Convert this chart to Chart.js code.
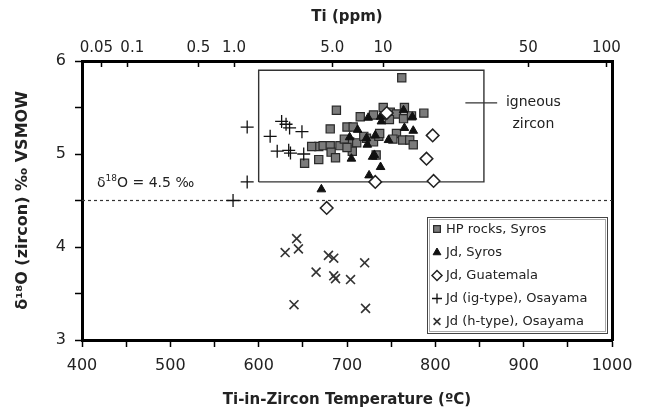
<!DOCTYPE html>
<html>
<head>
<meta charset="utf-8">
<script src="https://cdn.jsdelivr.net/npm/chart.js@4/dist/chart.umd.min.js"></script>
<style>
  html, body { margin: 0; padding: 0; background: #fff; }
</style>
</head>
<body>
<canvas id="chart_1" width="648" height="414"></canvas>
<script>
// Ti-in-zircon temperature (°C) vs δ18O (zircon, ‰ VSMOW)
const hpSyrosT = [762, 688, 681, 700, 707, 715, 730, 741, 749, 756, 765, 764, 787, 773, 668, 673, 681, 692, 703, 711,
                  682, 687, 668, 652, 706, 722, 730, 736, 737, 756, 763, 771, 775, 752, 733, 697, 700, 748, 719, 660];
const hpSyrosO = [5.82, 5.47, 5.27, 5.29, 5.29, 5.40, 5.42, 5.50, 5.45, 5.43, 5.50, 5.38, 5.44, 5.41, 5.08, 5.09, 5.09, 5.09, 5.13, 5.12,
                  5.02, 4.96, 4.94, 4.90, 5.03, 5.17, 5.13, 5.19, 5.22, 5.22, 5.15, 5.15, 5.10, 5.16, 4.99, 5.16, 5.07, 5.37, 5.19, 5.08];

const jdSyrosT = [724, 738, 739, 764, 774, 765, 775, 712, 703, 722, 732, 747, 723, 705, 729, 731, 738, 725, 671, 745];
const jdSyrosO = [5.39, 5.40, 5.35, 5.47, 5.40, 5.28, 5.25, 5.26, 5.18, 5.17, 5.20, 5.15, 5.10, 4.95, 4.97, 4.99, 4.86, 4.77, 4.62, 5.45];

const jdGuatT = [677, 732, 745, 790, 797, 798];
const jdGuatO = [4.42, 4.70, 5.44, 4.95, 5.20, 4.71];

const jdIgT = [571, 587, 587, 613, 626, 631, 635, 649, 621, 634, 636, 651];
const jdIgO = [4.50, 4.70, 5.29, 5.19, 5.35, 5.32, 5.28, 5.24, 5.03, 5.04, 5.01, 5.00];

const jdHT = [643, 630, 645, 679, 685, 720, 665, 685, 687, 704, 640, 721];
const jdHO = [4.09, 3.94, 3.98, 3.91, 3.88, 3.83, 3.73, 3.69, 3.66, 3.65, 3.38, 3.34];

const seriesNames = ["HP rocks, Syros", "Jd, Syros", "Jd, Guatemala", "Jd (ig-type), Osayama", "Jd (h-type), Osayama"];

// igneous zircon field and mantle value
const igneousT = [600, 855];
const igneousO = [4.7, 5.9];
const mantleO = 4.5;
const pointerT = [834, 870];
const pointerO = 5.55;

// top axis: Ti content (ppm), placed with the Ti-in-zircon thermometer
const tiTicks = [0.05, 0.1, 0.5, 1.0, 5.0, 10, 50, 100];
const tiLabels = ["0.05  ", "  0.1", "0.5", "1.0", "5.0", "10", "50", "100"];
const tiToTemp = (ppm) => 5080 / (6.01 - Math.log10(ppm)) - 273.15;

const pts = (xs, ys) => xs.map((x, i) => ({ x: x, y: ys[i] }));

const FONT = "'DejaVu Sans', Verdana, sans-serif";
const INK = "#222";

const styles = [
  { pointStyle: "rect", radius: 5.8, backgroundColor: "#7b7b7b", borderColor: "#2a2a2a", borderWidth: 1.2 },
  { pointStyle: "triangle", radius: 5, backgroundColor: "#111", borderColor: "#111", borderWidth: 1 },
  { pointStyle: "rectRot", radius: 6.3, backgroundColor: "#fff", borderColor: "#222", borderWidth: 1.5 },
  { pointStyle: "cross", radius: 6.5, backgroundColor: "#111", borderColor: "#111", borderWidth: 1.3 },
  { pointStyle: "crossRot", radius: 6.3, backgroundColor: "#333", borderColor: "#333", borderWidth: 1.6 },
];

const seriesData = [pts(hpSyrosT, hpSyrosO), pts(jdSyrosT, jdSyrosO), pts(jdGuatT, jdGuatO), pts(jdIgT, jdIgO), pts(jdHT, jdHO)];

const scatterSets = seriesData.map((d, i) => ({
  type: "scatter",
  label: seriesNames[i],
  data: d,
  pointStyle: styles[i].pointStyle,
  pointRadius: styles[i].radius,
  pointHoverRadius: styles[i].radius,
  pointBackgroundColor: styles[i].backgroundColor,
  pointBorderColor: styles[i].borderColor,
  pointBorderWidth: styles[i].borderWidth,
  order: 5 - i,
}));

const lineSets = [
  {
    type: "line",
    label: "igneous zircon",
    data: pts([igneousT[0], igneousT[1], igneousT[1], igneousT[0], igneousT[0]],
              [igneousO[0], igneousO[0], igneousO[1], igneousO[1], igneousO[0]]),
    borderColor: "#333", borderWidth: 1.4, pointRadius: 0, fill: false, tension: 0, order: 10,
  },
  {
    type: "line",
    label: "pointer",
    data: pts(pointerT, [pointerO, pointerO]),
    borderColor: "#333", borderWidth: 1.2, pointRadius: 0, fill: false, order: 10,
  },
  {
    type: "line",
    label: "mantle",
    data: pts([400, 1000], [mantleO, mantleO]),
    borderColor: "#333", borderWidth: 1.2, borderDash: [3, 3], pointRadius: 0, fill: false, order: 10,
  },
];

// text notes and the legend box
const notesPlugin = {
  id: "notes",
  afterDraw(chart) {
    const ctx = chart.ctx;
    const xs = chart.scales.x, ys = chart.scales.y;
    ctx.save();
    ctx.fillStyle = INK;
    ctx.textBaseline = "middle";

    // δ18O = 4.5 ‰
    let x = xs.getPixelForValue(417);
    let y = ys.getPixelForValue(4.68);
    ctx.textAlign = "left";
    ctx.font = "14px " + FONT;
    ctx.fillText("δ", x, y);
    x += ctx.measureText("δ").width;
    ctx.font = "9px " + FONT;
    ctx.fillText("18", x, y - 5);
    x += ctx.measureText("18").width;
    ctx.font = "14px " + FONT;
    ctx.fillText("O = 4.5 ‰", x, y);

    // igneous zircon
    ctx.textAlign = "center";
    ctx.font = "14px " + FONT;
    ctx.fillText("igneous", xs.getPixelForValue(911), ys.getPixelForValue(5.55));
    ctx.fillText("zircon", xs.getPixelForValue(911), ys.getPixelForValue(5.32));

    // legend
    const L = 427, T = 217, R = 608, B = 334;
    ctx.fillStyle = "#fff";
    ctx.fillRect(L, T, R - L, B - T);
    ctx.strokeStyle = "#444";
    ctx.lineWidth = 1;
    ctx.strokeRect(L + 0.5, T + 0.5, R - L - 1, B - T - 1);
    ctx.strokeStyle = "#aaa";
    ctx.strokeRect(L + 2.5, T + 2.5, R - L - 5, B - T - 5);

    const rows = [229, 252.5, 275.5, 298.5, 321.5];
    const legendRadius = [4.8, 4.5, 5, 5, 4.8];
    ctx.textAlign = "left";
    ctx.font = "13px " + FONT;
    seriesNames.forEach((name, i) => {
      const st = styles[i];
      ctx.fillStyle = st.backgroundColor;
      ctx.strokeStyle = st.borderColor;
      ctx.lineWidth = st.borderWidth;
      Chart.helpers.drawPoint(ctx, {
        pointStyle: st.pointStyle, radius: legendRadius[i], borderWidth: st.borderWidth, rotation: 0,
      }, 437, rows[i]);
      ctx.fillStyle = INK;
      ctx.fillText(name, 446, rows[i] + 0.5);
    });
    ctx.restore();
  },
};

const config = {
  type: "scatter",
  data: { datasets: [...lineSets, ...scatterSets] },
  options: {
    responsive: false,
    animation: false,
    layout: { padding: 0 },
    plugins: { legend: { display: false }, tooltip: { enabled: false } },
    scales: {
      x: {
        type: "linear", position: "bottom", min: 400, max: 1000,
        ticks: {
          stepSize: 50, autoSkip: false, maxRotation: 0, padding: 9, color: INK,
          font: { size: 16, family: FONT },
          callback: (v) => (v % 100 === 0 ? v : ""),
        },
        grid: { drawOnChartArea: false, tickLength: 7, tickWidth: 1.5, tickColor: "#000" },
        border: { color: "#000", width: 3 },
        title: {
          display: true, text: "Ti-in-Zircon Temperature (ºC)", color: INK,
          font: { size: 15, weight: "bold", family: FONT }, padding: { top: 2, bottom: 5 },
        },
        afterFit: (s) => { s.height = 74; },
      },
      x2: {
        type: "linear", position: "top", min: 400, max: 1000,
        afterBuildTicks: (s) => { s.ticks = tiTicks.map((p) => ({ value: tiToTemp(p) })); },
        ticks: {
          autoSkip: false, maxRotation: 0, padding: 10, color: INK,
          font: { size: 15, family: FONT },
          callback: (v, i) => tiLabels[i],
        },
        grid: { drawOnChartArea: false, tickLength: -6, tickWidth: 1.5, tickColor: "#000" },
        border: { color: "#000", width: 3 },
        title: {
          display: true, text: "Ti (ppm)", color: INK,
          font: { size: 15, weight: "bold", family: FONT }, padding: { top: 8, bottom: 2 },
        },
        afterFit: (s) => { s.height = 61; },
      },
      y: {
        type: "linear", position: "left", min: 3, max: 6,
        ticks: {
          stepSize: 0.5, autoSkip: false, padding: 9, color: INK,
          font: { size: 16, family: FONT },
          callback: (v) => (Number.isInteger(v) ? v : ""),
        },
        grid: { drawOnChartArea: false, tickLength: 7, tickWidth: 1.5, tickColor: "#000" },
        border: { color: "#000", width: 3 },
        title: {
          display: true, text: "δ¹⁸O (zircon) ‰ VSMOW", color: INK,
          font: { size: 16, weight: "bold", family: FONT }, padding: { top: 13, bottom: 2 },
        },
        afterFit: (s) => { s.width = 82; },
      },
      y2: {
        type: "linear", position: "right", min: 3, max: 6,
        ticks: { display: false },
        grid: { drawOnChartArea: false, drawTicks: false },
        border: { color: "#000", width: 3 },
        afterFit: (s) => { s.width = 36; },
      },
    },
  },
  plugins: [notesPlugin],
};

new Chart(document.getElementById("chart_1"), config);
</script>
</body>
</html>
